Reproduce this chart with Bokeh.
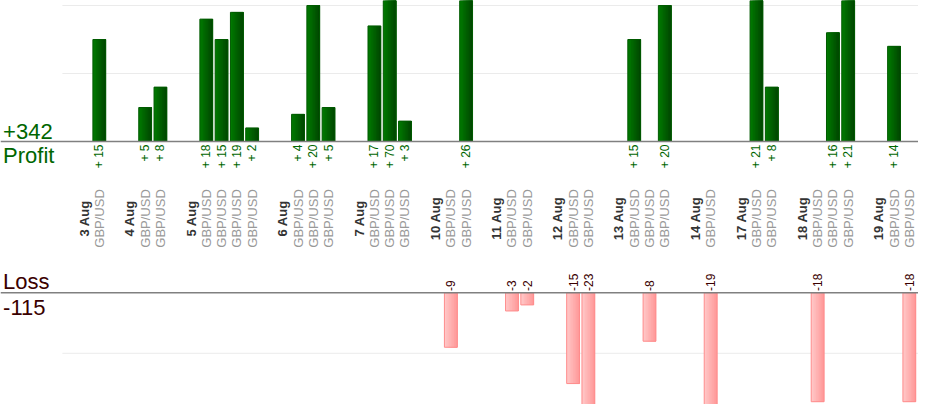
import math
from bokeh.plotting import figure
from bokeh.models import Range1d, Span
from bokeh.core.properties import value
from bokeh.embed import file_html
from bokeh.resources import INLINE

# ---------------- data ----------------
day_labels = ["3 Aug", "4 Aug", "5 Aug", "6 Aug", "7 Aug", "10 Aug", "11 Aug",
              "12 Aug", "13 Aug", "14 Aug", "17 Aug", "18 Aug", "19 Aug"]
trades_per_day = [1, 2, 4, 3, 3, 2, 2, 2, 3, 1, 2, 3, 2]
trade_pips = [15, 5, 8, 18, 15, 19, 2, 4, 20, 5, 17, 70, 3, -9, 26, -3, -2,
              -15, -23, 15, -8, 20, -19, 21, 8, -18, 16, 21, 14, -18]
trade_pairs = ["GBP/USD"] * 30
profit_grid = [10, 20]
loss_grid = [-10]

# ---------------- slots (one per day label, one per trade, one gap) ----------------
day_x, trade_x = [], []
slot = 0
for n in trades_per_day:
    day_x.append(slot)
    slot += 1
    for _ in range(n):
        trade_x.append(slot)
        slot += 1
    slot += 1

win_x = [x for x, v in zip(trade_x, trade_pips) if v > 0]
win_v = [v for v in trade_pips if v > 0]
lose_x = [x for x, v in zip(trade_x, trade_pips) if v < 0]
lose_v = [v for v in trade_pips if v < 0]
total_profit = sum(win_v)
total_loss = sum(lose_v)

FONT = value("Liberation Sans")
X0, X1 = -5.466, 54.60

p = figure(width=918, height=404, x_range=Range1d(X0, X1),
           y_range=Range1d(-38.68, 20.74), output_backend="svg",
           toolbar_location=None, min_border=0, title=None,
           outline_line_color=None, background_fill_color="white",
           border_fill_color="white")
p.extra_y_ranges = {"loss": Range1d(-18.46, 48.31)}
p.xaxis.visible = False
p.yaxis.visible = False
p.xgrid.visible = False
p.ygrid.visible = False

GRID_X0 = -1.416
for g in profit_grid:
    p.segment(x0=[GRID_X0], x1=[X1], y0=[g], y1=[g], line_color="#ebebeb", line_width=1)
for g in loss_grid:
    p.segment(x0=[GRID_X0], x1=[X1], y0=[g], y1=[g], line_color="#ebebeb", line_width=1,
              y_range_name="loss")

BAR_W = 0.84


def lerp(c0, c1, t):
    a = [int(c0[i:i + 2], 16) for i in (1, 3, 5)]
    b = [int(c1[i:i + 2], 16) for i in (1, 3, 5)]
    return "#" + "".join("%02x" % round(a[k] + (b[k] - a[k]) * t) for k in range(3))


def gradient_bars(xs, tops, bottoms, c0, c1, border, yr, n=8):
    # nested bars anchored at the right edge, getting darker -> smooth left-to-right gradient
    for i in range(n):
        col = lerp(c0, c1, i / (n - 1))
        w = BAR_W * (n - i) / n
        off = BAR_W / 2 - w / 2
        p.vbar(x=[x + off for x in xs], width=w, top=tops, bottom=bottoms,
               fill_color=col, line_color=None, y_range_name=yr)
    p.vbar(x=xs, width=BAR_W, top=tops, bottom=bottoms, fill_alpha=0,
           line_color=border, line_width=1, y_range_name=yr)


gradient_bars(win_x, win_v, [0] * len(win_v), "#007800", "#004800", "#005a00", "default")
gradient_bars(lose_x, [0] * len(lose_v), lose_v, "#ffc6c6", "#ff9a9a", "#ff8c8c", "loss")

p.add_layout(Span(location=0, dimension="width", line_color="#808080", line_width=1.5))
p.add_layout(Span(location=0, dimension="width", line_color="#808080", line_width=1.5,
                  y_range_name="loss"))

# value labels
p.text(x=win_x, y=[-0.44] * len(win_x), text=["+ %d" % v for v in win_v],
       angle=math.pi / 2, text_align="right", text_baseline="middle",
       text_font=FONT, text_font_size="12px", text_color="#006600")
p.text(x=lose_x, y=[0.3] * len(lose_x), text=["%d" % v for v in lose_v],
       angle=math.pi / 2, text_align="left", text_baseline="middle",
       text_font=FONT, text_font_size="12px", text_color="#3a0000",
       y_range_name="loss")

# category labels
p.text(x=day_x, y=[-11.32] * len(day_x), text=day_labels, angle=math.pi / 2,
       text_align="center", text_baseline="middle", text_font=FONT,
       text_font_size="13px", text_font_style="bold", text_color="#333333")
p.text(x=trade_x, y=[-11.32] * len(trade_x), text=trade_pairs, angle=math.pi / 2,
       text_align="center", text_baseline="middle", text_font=FONT,
       text_font_size="13px", text_color="#999999")

# totals
LX = X0 + 0.17
p.text(x=[LX, LX], y=[1.54, -2.09], text=["+%d" % total_profit, "Profit"],
       text_align="left", text_baseline="alphabetic", text_font=FONT,
       text_font_size="22px", text_color="#006600")
p.text(x=[LX, LX], y=[1.90, -2.51], text=["Loss", "%d" % total_loss],
       text_align="left", text_baseline="alphabetic", text_font=FONT,
       text_font_size="22px", text_color="#3a0000", y_range_name="loss")

open("out.html", "w").write(file_html(p, INLINE))
